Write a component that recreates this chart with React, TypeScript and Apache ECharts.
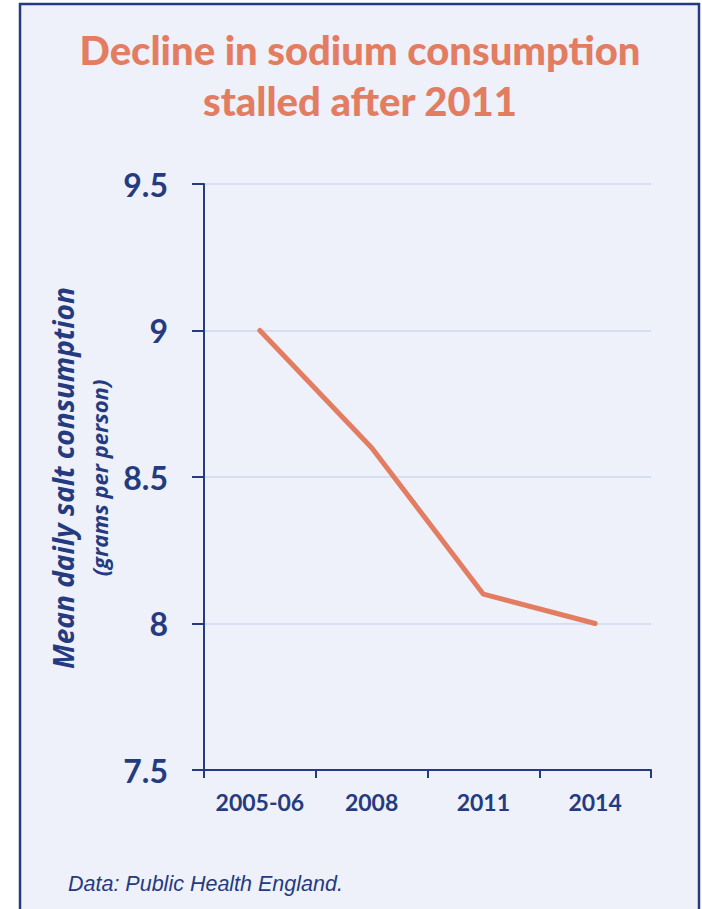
import React, { useEffect, useRef } from "react";
import * as echarts from "echarts";

// Mean daily salt consumption, England
const years = ["2005-06", "2008", "2011", "2014"];
const saltGrams = [9.0, 8.6, 8.1, 8.0];
const yTicks = { min: 7.5, max: 9.5, step: 0.5 };

const titleLines = ["Decline in sodium consumption", "stalled after 2011"];
const yAxisName = "Mean daily salt consumption";
const yAxisUnit = "(grams per person)";
const sourceNote = "Data: Public Health England.";

const NAVY = "#253b80";
const ORANGE = "#e27d61";
const PANEL = "#eef0fa";
const GRID = "#d7ddf3";

export default function App() {
  const ref = useRef<HTMLDivElement>(null);

  useEffect(() => {
    if (!ref.current) return;
    const chart = echarts.init(ref.current, undefined, { renderer: "svg" });
    chart.setOption({
      animation: false,
      backgroundColor: "#ffffff",
      graphic: [
        {
          type: "rect",
          z: -10,
          silent: true,
          shape: { x: 20, y: 4, width: 679, height: 930 },
          style: { fill: PANEL, stroke: NAVY, lineWidth: 2.5 },
        },
        {
          type: "text",
          x: 360,
          y: 50,
          style: {
            text: titleLines[0],
            fill: ORANGE,
            font: "900 40px Lato",
            align: "center",
            verticalAlign: "middle",
          },
        },
        {
          type: "text",
          x: 360,
          y: 101,
          style: {
            text: titleLines[1],
            fill: ORANGE,
            font: "900 40px Lato",
            align: "center",
            verticalAlign: "middle",
          },
        },
        {
          type: "text",
          x: 63,
          y: 478,
          rotation: Math.PI / 2,
          style: {
            text: yAxisName,
            fill: NAVY,
            font: "italic bold 28px 'Open Sans'",
            align: "center",
            verticalAlign: "middle",
          },
        },
        {
          type: "text",
          x: 99,
          y: 478,
          rotation: Math.PI / 2,
          style: {
            text: yAxisUnit,
            fill: NAVY,
            font: "italic bold 22px 'Open Sans'",
            align: "center",
            verticalAlign: "middle",
          },
        },
        {
          type: "text",
          x: 68,
          y: 884,
          style: {
            text: sourceNote,
            fill: NAVY,
            font: "italic 21.5px 'Liberation Sans'",
            align: "left",
            verticalAlign: "middle",
          },
        },
      ],
      grid: { left: 204, right: 51, top: 184, bottom: 139 },
      xAxis: {
        type: "category",
        data: years,
        boundaryGap: true,
        axisLine: { lineStyle: { color: NAVY, width: 2 } },
        axisTick: { show: true, length: 8, lineStyle: { color: NAVY, width: 2 } },
        axisLabel: {
          interval: 0,
          color: NAVY,
          fontFamily: "Lato",
          fontWeight: "bold",
          fontSize: 23,
          margin: 20,
        },
        splitLine: { show: false },
      },
      yAxis: {
        type: "value",
        min: yTicks.min,
        max: yTicks.max,
        interval: yTicks.step,
        axisLine: { show: true, lineStyle: { color: NAVY, width: 2 } },
        axisTick: { show: true, length: 12, lineStyle: { color: NAVY, width: 2 } },
        axisLabel: {
          color: NAVY,
          fontFamily: "Lato",
          fontWeight: "bold",
          fontSize: 32,
          margin: 36,
        },
        splitLine: { show: true, lineStyle: { color: GRID, width: 2 } },
      },
      series: [
        {
          type: "line",
          data: saltGrams,
          symbol: "none",
          lineStyle: { color: ORANGE, width: 5, cap: "round", join: "round" },
        },
      ],
    });
    return () => chart.dispose();
  }, []);

  return (
    <div
      ref={ref}
      style={{ position: "fixed", left: 0, top: 0, width: 702, height: 909 }}
    />
  );
}
